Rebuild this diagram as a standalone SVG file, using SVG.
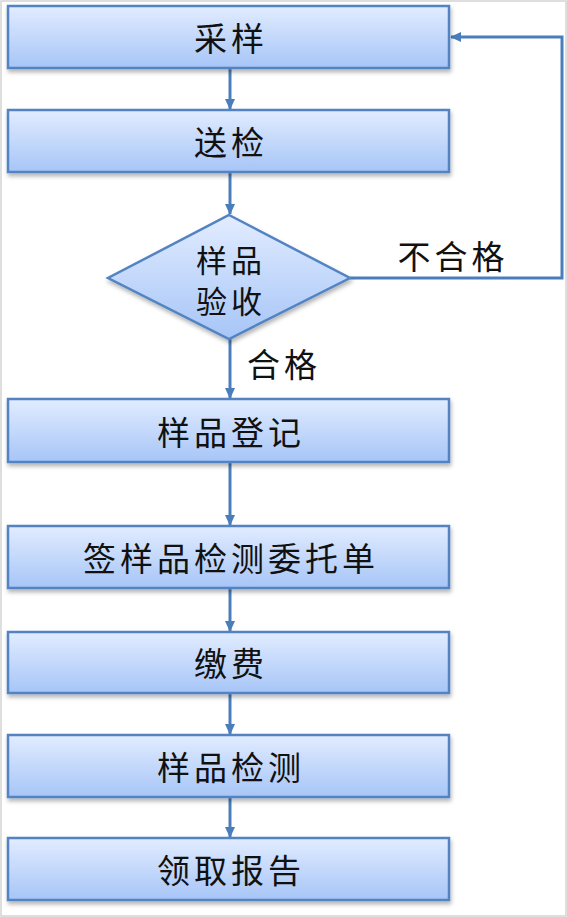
<svg xmlns="http://www.w3.org/2000/svg" width="567" height="917" viewBox="0 0 567 917">
<defs>
<linearGradient id="g" x1="0" y1="0" x2="0" y2="1">
<stop offset="0" stop-color="#e2ecff"/>
<stop offset="1" stop-color="#a6c5f7"/>
</linearGradient>
<filter id="sh" x="-5%" y="-10%" width="110%" height="130%">
<feDropShadow dx="1" dy="3" stdDeviation="2" flood-color="#000" flood-opacity="0.3"/>
</filter>
<marker id="ah" markerWidth="11" markerHeight="10" refX="10" refY="5" orient="auto" markerUnits="userSpaceOnUse">
<path d="M0,0 L11,5 L0,10 Z" fill="#4a7ebb"/>
</marker>
<style>
.box{fill:url(#g);stroke:#5283c2;stroke-width:2.5;filter:url(#sh)}
.t{font-family:"Noto Sans CJK SC","Noto Sans CJK JP",sans-serif;font-size:33px;fill:#111;text-anchor:middle;dominant-baseline:central;letter-spacing:4px}
.d{font-size:31px}
.c{fill:none;stroke:#4a7ebb;stroke-width:3}
</style>
</defs>
<rect x="1" y="1" width="565" height="915" fill="#fff" stroke="#d4d4d4" stroke-width="1.5"/>
<g id="connectors">
<line class="c" x1="230" y1="69" x2="230" y2="109" marker-end="url(#ah)"/>
<line class="c" x1="230" y1="173" x2="230" y2="214" marker-end="url(#ah)"/>
<line class="c" x1="230" y1="339" x2="230" y2="398" marker-end="url(#ah)"/>
<line class="c" x1="230" y1="463" x2="230" y2="525" marker-end="url(#ah)"/>
<line class="c" x1="230" y1="589" x2="230" y2="631" marker-end="url(#ah)"/>
<line class="c" x1="230" y1="694" x2="230" y2="734" marker-end="url(#ah)"/>
<line class="c" x1="230" y1="798" x2="230" y2="837" marker-end="url(#ah)"/>
<polyline class="c" points="350,278 562,278 562,37 451,37" marker-end="url(#ah)"/>
<text class="t" x="453" y="255">不合格</text>
<text class="t" x="284" y="363">合格</text>
</g>
<g id="n1"><rect class="box" x="8" y="6" width="441" height="62"/><text class="t" x="231" y="37">采样</text></g>
<g id="n2"><rect class="box" x="8" y="110" width="441" height="62"/><text class="t" x="231" y="141">送检</text></g>
<g id="n3"><polygon class="box" points="229,215 350,278 229,339 108,278"/><text class="t d" x="231" y="258">样品</text><text class="t d" x="231" y="299">验收</text></g>
<g id="n4"><rect class="box" x="8" y="399" width="441" height="63"/><text class="t" x="231" y="431">样品登记</text></g>
<g id="n5"><rect class="box" x="8" y="526" width="441" height="62"/><text class="t" x="231" y="557">签样品检测委托单</text></g>
<g id="n6"><rect class="box" x="8" y="632" width="441" height="61"/><text class="t" x="231" y="662">缴费</text></g>
<g id="n7"><rect class="box" x="8" y="735" width="441" height="62"/><text class="t" x="231" y="766">样品检测</text></g>
<g id="n8"><rect class="box" x="8" y="838" width="441" height="62"/><text class="t" x="231" y="869">领取报告</text></g>
</svg>
